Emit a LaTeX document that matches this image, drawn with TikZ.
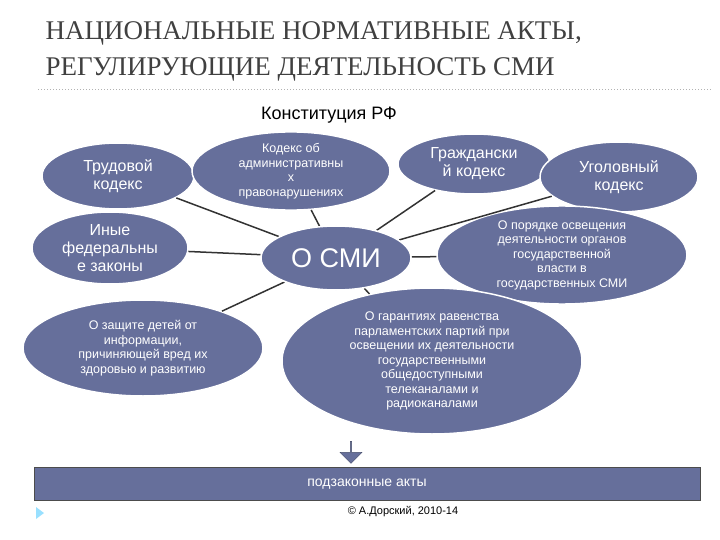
\documentclass[tikz,border=0pt]{standalone}
\usepackage{fontspec}
\setmainfont{Liberation Serif}
\newfontfamily\ar{Liberation Sans}
\usetikzlibrary{shapes.geometric,shapes.arrows}
\definecolor{ellc}{HTML}{666F9B}
\definecolor{ttl}{HTML}{404040}
\tikzset{x=1pt,y=-1pt,
 el/.style={ellipse,fill=ellc,draw=white,line width=1.5pt,inner sep=0pt,text=white,align=center,font=\ar\fontsize{16}{18}\selectfont},
 small/.style={font=\ar\fontsize{12.5}{14.5}\selectfont},
 conn/.style={draw=black!80,line width=1.5pt}}
\begin{document}
\begin{tikzpicture}
\useasboundingbox (0,0) rectangle (720,540);
\node[anchor=west,text=ttl,font=\fontsize{27}{30}\selectfont] (t1) at (42,33) {НАЦИОНАЛЬНЫЕ НОРМАТИВНЫЕ АКТЫ,};
\node[anchor=west,text=ttl,font=\fontsize{27}{30}\selectfont] (t2) at (42,69) {РЕГУЛИРУЮЩИЕ ДЕЯТЕЛЬНОСТЬ СМИ};
\draw[gray!60,dotted,line width=1pt] (38,90) -- (712,90);
\node[font=\ar\fontsize{18}{20}\selectfont] (k) at (329,115) {Конституция РФ};
\node[el,minimum width=150,minimum height=64,font=\ar\fontsize{27}{29}\selectfont] (smi) at (336,258) {О СМИ};
\node[el,minimum width=152,minimum height=66] (tr) at (118,176) {Трудовой\\кодекс};
\node[el,minimum width=198,minimum height=66,small] (adm) at (291,171) {Кодекс об\\административны\\х\\правонарушениях};
\node[el,minimum width=152,minimum height=60] (gr) at (474,164) {Граждански\\й кодекс};
\node[el,minimum width=158,minimum height=70] (ug) at (619,177) {Уголовный\\кодекс};
\node[el,minimum width=156,minimum height=72] (in) at (110,248) {Иные\\федеральны\\е законы};
\node[el,minimum width=250,minimum height=92,small] (por) at (562,255) {О порядке освещения\\деятельности органов\\государственной\\власти в\\государственных СМИ};
\node[el,minimum width=240,minimum height=96,small] (zas) at (143,348) {О защите детей от\\информации,\\причиняющей вред их\\здоровью и развитию};
\node[el,minimum width=300,minimum height=146,small] (gar) at (432,361) {О гарантиях  равенства\\парламентских партий при\\освещении их деятельности\\государственными\\общедоступными\\телеканалами и\\радиоканалами};
\draw[conn] (tr) -- (smi);
\draw[conn] (adm) -- (smi);
\draw[conn] (gr) -- (smi);
\draw[conn] (ug) -- (smi);
\draw[conn] (in) -- (smi);
\draw[conn] (por) -- (smi);
\draw[conn] (zas) -- (smi);
\draw[conn] (gar) -- (smi);
\node[el,minimum width=150,minimum height=64,font=\ar\fontsize{27}{29}\selectfont] at (336,258) {О СМИ};
\node[single arrow,shape border rotate=270,fill=ellc,draw=ellc!70!black,minimum width=22,single arrow head extend=3,minimum height=22,inner sep=0pt] (arr) at (351,452) {};
\node[fill=ellc,draw=black!70,line width=1pt,minimum width=666,minimum height=33,text=white,font=\ar\fontsize{14}{16}\selectfont] (pod) at (367,484) {подзаконные акты};
\node[font=\ar\fontsize{11}{13}\selectfont] (c) at (403,512) {© А.Дорский, 2010-14};
\fill[blue!30!cyan!40] (36,507) -- (44,513) -- (36,519) -- cycle;
\end{tikzpicture}
\end{document}
